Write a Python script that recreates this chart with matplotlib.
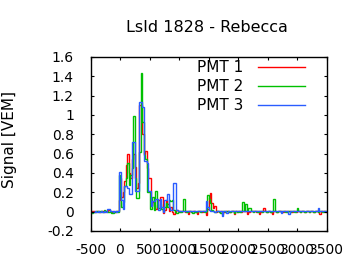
"""Three PMT traces of one station, drawn as step histograms (25 ns bins)."""
import matplotlib
matplotlib.use("Agg")
import matplotlib.pyplot as plt
import numpy as np

BIN_NS = 25
T_START = -500          # left edge of the first bin, ns
TITLE = "LsId 1828 - Rebecca"
YLABEL = "Signal [VEM]"
LABELS = ["PMT 1", "PMT 2", "PMT 3"]
COLORS = ["#ff0000", "#00c000", "#2a5cff"]

# signal per bin, VEM; one row = 500 ns
pmt1 = [
    0.007, 0.007, 0.005, 0.0, 0.01, 0.005, 0.0, 0.012, 0.005, 0.0, 0.005, 0.01, 0.015, 0.005, 0.0, 0.005, 0.0, 0.005, 0.01, 0.12,
    0.35, 0.15, 0.20, 0.32, 0.48, 0.60, 0.40, 0.35, 0.55, 0.60, 0.46, 0.25, 0.30, 1.10, 1.10, 0.80, 0.60, 0.63, 0.45, 0.35,
    0.35, 0.06, 0.10, 0.07, 0.03, 0.05, 0.12, 0.15, 0.15, -0.01, 0.02, 0.12, 0.08, 0.01, 0.05, 0.0, -0.025, 0.0, 0.02, 0.01,
    0.0, 0.005, 0.005, 0.005, 0.0, 0.005, -0.025, 0.005, 0.0, 0.005, 0.005, 0.0, -0.025, 0.005, 0.005, 0.0, 0.005, 0.005, -0.03, 0.03,
    0.14, 0.19, 0.09, 0.04, 0.06, 0.0, 0.005, 0.0, 0.005, -0.025, 0.0, 0.005, 0.005, 0.005, 0.0, 0.005, 0.005, -0.025, 0.005, 0.0,
    0.005, 0.005, 0.0, 0.005, 0.005, 0.005, -0.025, 0.0, 0.005, 0.005, 0.005, 0.005, 0.0, 0.005, -0.025, 0.0, 0.005, 0.035, 0.005, 0.0,
    0.005, 0.005, 0.0, -0.025, 0.005, 0.005, 0.0, 0.005, 0.01, 0.005, 0.0, 0.005, 0.005, 0.0, 0.005, 0.005, 0.0, 0.005, 0.005, 0.0,
    0.005, 0.005, 0.0, 0.005, 0.005, 0.0, 0.005, 0.005, 0.0, 0.005, 0.005, 0.0, 0.005, 0.005, 0.0, -0.025, 0.005, 0.005, 0.005, 0.0,
]
pmt2 = [
    -0.01, -0.01, -0.005, 0.0, 0.005, 0.0, 0.005, 0.01, 0.0, 0.015, 0.005, 0.0, 0.0, 0.005, -0.01, -0.01, 0.0, 0.005, 0.0, 0.38,
    0.15, 0.05, 0.10, 0.27, 0.35, 0.50, 0.28, 0.38, 0.45, 0.99, 0.35, 0.14, 0.14, 0.62, 1.43, 0.93, 0.59, 0.55, 0.20, 0.20,
    0.03, 0.03, 0.15, 0.02, 0.21, 0.05, 0.04, 0.08, 0.03, 0.01, 0.05, 0.09, 0.05, 0.12, 0.11, 0.12, 0.02, 0.0, -0.01, 0.0,
    0.005, 0.0, 0.005, 0.13, 0.005, 0.0, 0.005, 0.005, 0.0, -0.01, 0.005, 0.0, 0.005, 0.005, 0.0, 0.005, 0.005, 0.0, 0.005, 0.17,
    0.13, 0.09, 0.02, 0.005, 0.0, 0.005, 0.005, 0.0, -0.01, 0.005, 0.005, 0.0, 0.005, 0.005, 0.0, 0.005, 0.005, -0.01, 0.005, 0.0,
    0.005, 0.0, 0.005, 0.10, 0.005, 0.08, 0.005, 0.035, 0.035, 0.005, 0.0, 0.005, 0.005, 0.0, 0.005, 0.005, 0.0, 0.005, 0.005, 0.0,
    0.005, 0.005, 0.0, 0.005, 0.13, 0.005, 0.0, 0.005, 0.005, 0.0, 0.005, 0.005, 0.0, 0.005, 0.005, 0.0, 0.005, 0.005, 0.0, 0.005,
    0.035, 0.005, 0.0, 0.005, 0.005, 0.0, 0.005, 0.005, 0.0, 0.005, 0.005, 0.0, 0.005, 0.005, 0.0, 0.005, 0.005, 0.0, 0.005, 0.005,
]
pmt3 = [
    -0.005, -0.005, 0.0, 0.005, 0.0, 0.005, 0.0, 0.005, 0.0, 0.005, 0.0, 0.024, 0.024, 0.005, 0.005, 0.0, 0.005, 0.0, 0.005, 0.41,
    0.41, 0.12, 0.03, 0.27, 0.27, 0.24, 0.18, 0.18, 0.72, 0.72, 0.21, 0.21, 0.21, 1.13, 1.13, 1.08, 0.52, 0.52, 0.50, 0.21,
    0.21, 0.06, 0.11, 0.11, 0.13, 0.13, 0.02, 0.13, 0.05, 0.0, 0.12, 0.12, 0.18, 0.05, 0.02, 0.02, 0.30, 0.30, 0.02, 0.01,
    0.01, 0.01, 0.005, 0.01, 0.01, 0.01, 0.005, 0.01, 0.01, 0.01, 0.005, 0.01, 0.01, 0.01, 0.005, 0.01, 0.01, 0.005, 0.11, 0.05,
    0.02, 0.01, 0.005, 0.01, 0.0, 0.01, 0.01, 0.005, 0.01, -0.04, 0.01, 0.01, -0.01, 0.01, 0.01, 0.005, 0.01, 0.01, 0.01, 0.005,
    0.01, 0.01, 0.01, 0.005, 0.01, 0.01, 0.01, 0.005, 0.01, 0.01, 0.01, 0.005, 0.01, 0.01, 0.01, 0.005, 0.01, 0.01, 0.01, 0.005,
    0.01, 0.01, 0.01, 0.005, 0.01, 0.01, 0.01, 0.005, 0.01, -0.01, 0.01, 0.005, 0.01, 0.01, -0.02, 0.005, 0.01, 0.01, 0.01, 0.005,
    0.01, 0.01, 0.01, 0.005, 0.01, 0.01, 0.01, 0.005, 0.01, 0.01, 0.01, 0.005, 0.01, 0.01, 0.035, 0.01, 0.01, 0.005, 0.01, 0.01,
]

XTICKS = [-500, 0, 500, 1000, 1500, 2000, 2500, 3000, 3500]
YTICKS = [-0.2, 0, 0.2, 0.4, 0.6, 0.8, 1.0, 1.2, 1.4, 1.6]
YTICK_LABELS = ["-0.2", "0", "0.2", "0.4", "0.6", "0.8", "1", "1.2", "1.4", "1.6"]


def main():
    plt.rcParams["font.family"] = ["DejaVu Sans"]
    W, H = 360, 270
    fig = plt.figure(figsize=(W / 100, H / 100), dpi=100)
    # axes box in pixels: x 90.5..326.5, y 57..231
    ax = fig.add_axes([90.5 / W, 1 - 231 / H, 236 / W, 174 / H])

    edges = T_START + BIN_NS * np.arange(len(pmt1) + 1)
    for vals, col in zip([pmt1, pmt2, pmt3], COLORS):
        ax.stairs(vals, edges, baseline=None, color=col, lw=1.0)

    ax.set_xlim(XTICKS[0], XTICKS[-1])
    ax.set_ylim(YTICKS[0], YTICKS[-1])
    ax.set_xticks(XTICKS)
    ax.set_xticklabels([str(t) for t in XTICKS])
    ax.set_yticks(YTICKS)
    ax.set_yticklabels(YTICK_LABELS)
    ax.tick_params(direction="in", top=True, right=True, length=2.5, width=0.8,
                   labelsize=10, colors="black")
    ax.tick_params(axis="y", pad=12)
    ax.tick_params(axis="x", pad=9)
    for s in ax.spines.values():
        s.set_linewidth(1.0)

    # gnuplot-style key: label on the left, sample line on the right
    for k, (lab, col) in enumerate(zip(LABELS, COLORS)):
        y = 0.94 - 0.108 * k
        ax.text(0.646, y, lab, transform=ax.transAxes, ha="right", va="center", fontsize=11)
        ax.plot([0.71, 0.909], [y, y], transform=ax.transAxes, color=col, lw=1.0)

    fig.text(207 / W, 1 - 27.5 / H, TITLE, ha="center", va="center", fontsize=11.5)
    fig.text(10 / W, 1 - 139 / H, YLABEL, ha="center", va="center", rotation=90, fontsize=11)

    fig.savefig("out.png", dpi=100)
    plt.close(fig)


if __name__ == "__main__":
    main()
